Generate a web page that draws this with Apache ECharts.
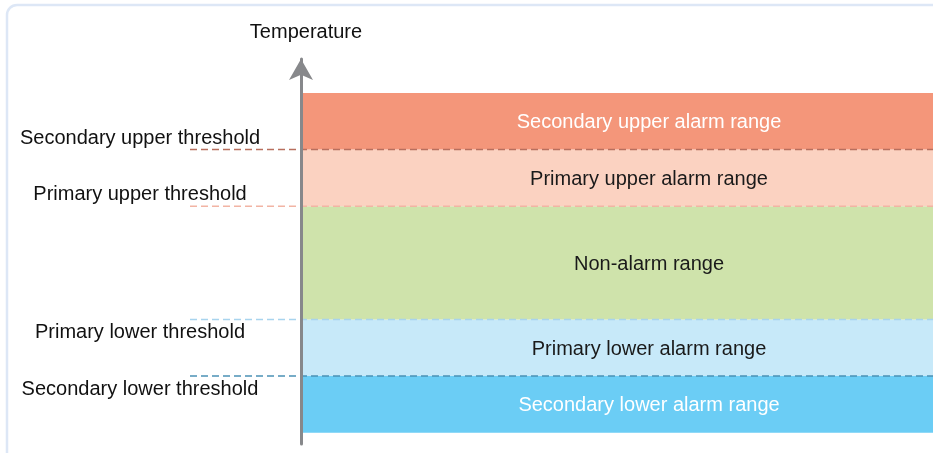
<!DOCTYPE html>
<html lang="en">
<head>
    <meta charset="UTF-8">
    <title>Temperature alarm ranges</title>
    <script src="https://cdn.jsdelivr.net/npm/echarts@6.0.0/dist/echarts.min.js"></script>
    <style>
        html, body { margin: 0; padding: 0; background: #fff; }
    </style>
</head>
<body>
    <div id="chart" style="width: 933px; height: 453px;"></div>

    <script>
        var chart = echarts.init(document.getElementById('chart'));

        // bands, from bottom to top (temperature units)
        var bandNames = ['Secondary lower alarm range', 'Primary lower alarm range', 'Non-alarm range',
                         'Primary upper alarm range', 'Secondary upper alarm range'];
        var bandLow = [0, 1, 2, 4, 5];
        var bandHigh = [1, 2, 4, 5, 6];
        var bandColors = ['#6bcdf5', '#c7e9f9', '#cfe3ab', '#fbd2c1', '#f4967a'];
        var bandTextColors = ['#ffffff', '#1a1a1a', '#1a1a1a', '#1a1a1a', '#ffffff'];

        // thresholds
        var thresholdNames = ['Secondary lower threshold', 'Primary lower threshold',
                              'Primary upper threshold', 'Secondary upper threshold'];
        var thresholdValues = [1, 2, 4, 5];
        var thresholdColors = ['#4b91b5', '#a8d4ee', '#f2b4a4', '#b86f5e'];

        var font = '"Liberation Sans", Arial, sans-serif';

        chart.setOption({
            animation: false,
            graphic: [{
                type: 'rect',
                shape: { x: 7, y: 5, width: 1000, height: 1000, r: 10 },
                style: { fill: 'none', stroke: '#dde7f6', lineWidth: 2.5 },
                silent: true
            }],
            grid: { left: 301, right: 0, top: 59, bottom: 9 },
            // bands run past the right edge, as in the cropped original
            xAxis: { type: 'value', min: 0, max: 0.908, show: false },
            yAxis: {
                type: 'value',
                min: -0.2,
                max: 6.6,
                z: 10,
                name: 'Temperature',
                nameGap: 17,
                nameTextStyle: { fontFamily: font, fontSize: 20, color: '#111', padding: [0, 0, 0, 10] },
                axisLine: {
                    show: true,
                    symbol: ['none', 'arrow'],
                    symbolSize: [18, 21],
                    lineStyle: { color: '#87888b', width: 3 }
                },
                axisTick: { show: false },
                axisLabel: { show: false },
                splitLine: { show: false }
            },
            series: [{
                type: 'custom',
                clip: false,
                silent: true,
                data: bandNames.map(function (n, i) { return [bandLow[i], bandHigh[i], i]; }),
                renderItem: function (params, api) {
                    var i = api.value(2);
                    var tl = api.coord([0, api.value(1)]);
                    var br = api.coord([1, api.value(0)]);
                    return {
                        type: 'group',
                        children: [{
                            type: 'rect',
                            shape: { x: tl[0], y: tl[1], width: br[0] - tl[0], height: br[1] - tl[1] },
                            style: { fill: bandColors[i] }
                        }, {
                            type: 'text',
                            x: (tl[0] + br[0]) / 2,
                            y: (tl[1] + br[1]) / 2 + 1.5,
                            style: {
                                text: bandNames[i],
                                fill: bandTextColors[i],
                                fontSize: 20,
                                fontFamily: font,
                                align: 'center',
                                verticalAlign: 'middle'
                            }
                        }]
                    };
                }
            }, {
                type: 'custom',
                clip: false,
                silent: true,
                data: thresholdValues.map(function (v, i) { return [0, v, i]; }),
                renderItem: function (params, api) {
                    var i = api.value(2);
                    var p = api.coord([0, api.value(1)]);
                    var x0 = p[0] - 111;
                    var above = thresholdNames[i].indexOf('upper') >= 0;
                    return {
                        type: 'group',
                        children: [{
                            type: 'line',
                            shape: { x1: x0, y1: p[1], x2: api.getWidth() + 80, y2: p[1] },
                            style: { stroke: thresholdColors[i], lineWidth: 1.5, lineDash: [7, 4] }
                        }, {
                            type: 'text',
                            x: x0 - 50,
                            y: p[1] + (above ? -11.5 : 13),
                            style: {
                                text: thresholdNames[i],
                                fill: '#111',
                                fontSize: 20,
                                fontFamily: font,
                                align: 'center',
                                verticalAlign: 'middle'
                            }
                        }]
                    };
                }
            }]
        });
    </script>
</body>
</html>
